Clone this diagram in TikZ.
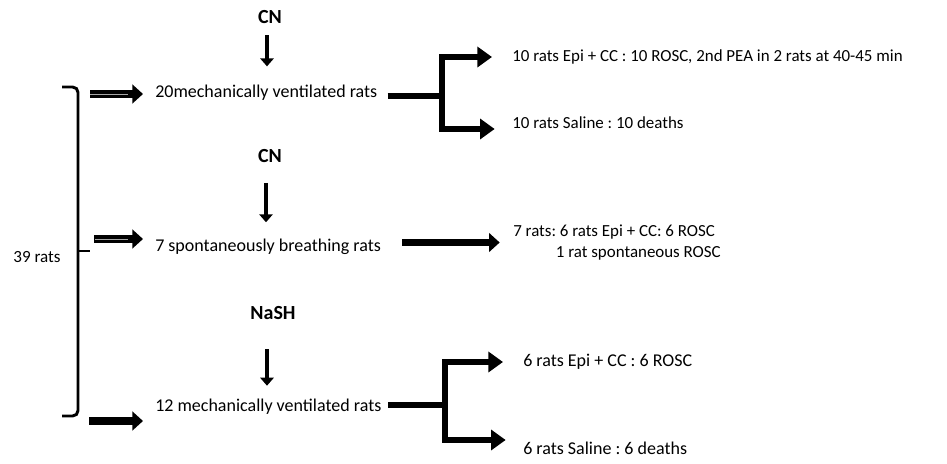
\documentclass[tikz,border=0pt]{standalone}
\usepackage{fontspec}
\setmainfont{Carlito}
\usetikzlibrary{arrows.meta}
\begin{document}
\frenchspacing
\begin{tikzpicture}[x=0.75pt,y=-0.75pt,
  font=\fontsize{13.5}{15.75}\selectfont,
  txt/.style={inner sep=0pt, anchor=west},
  rtxt/.style={inner sep=0pt, anchor=west, font=\fontsize{12.7}{15.75}\selectfont},
  hd/.style={inner sep=0pt, font=\fontsize{15}{17}\selectfont\bfseries},
  bar/.style={line width=4.5pt},
  branch/.style={line width=4.5pt, line join=miter, -{Triangle[length=11pt,width=15pt]}},
  feed/.style={line width=6pt, -{Triangle[length=8pt,width=14pt]}},
  feedline/.style={line width=0.7pt, draw=gray!70},
  drop/.style={line width=3pt, -{Triangle[length=6pt,width=10pt]}},
  bracestyle/.style={line width=2.2pt, rounded corners=4pt},
]
\useasboundingbox (0,0) rectangle (947,464);

% nodes
\node[hd] (cn1) at (270,17) {CN};
\node[txt] (m1) at (155,93) {20mechanically ventilated rats};
\node[rtxt] (r1a) at (512,57) {10 rats Epi + CC : 10 ROSC, 2nd PEA in 2 rats at 40-45 min};
\node[rtxt] (r1b) at (512,123) {10 rats Saline : 10 deaths};

\node[hd] (cn2) at (270,156) {CN};
\node[txt] (m2) at (155,247) {7 spontaneously breathing rats};
\node[rtxt, align=left] (r2) at (513,242.5) {7 rats: 6 rats Epi + CC: 6 ROSC\\\hspace*{32pt}1 rat spontaneous ROSC};

\node[hd] (nash) at (273,313) {NaSH};
\node[txt] (m3) at (155,407) {12 mechanically ventilated rats};
\node[txt] (r3a) at (523,362) {6 rats Epi + CC : 6 ROSC};
\node[txt] (r3b) at (523,448) {6 rats Saline : 6 deaths};

\node[inner sep=0pt, font=\fontsize{12.8}{15}\selectfont] (n39) at (37,257) {39 rats};

% brace
\draw[bracestyle] (62,87) -- (78,87) -- (78,416) -- (62,416);
\draw[line width=2.2pt] (78,251) -- (90,251);

% feed arrows
\coordinate (s1) at (90,94);
\coordinate (s2) at (94,239);
\coordinate (s3) at (89,421);
\draw[feed, shorten >=9pt] (s1) -- (s1 -| m1.west);
\draw[feedline] (s1) -- ([xshift=-20pt]s1 -| m1.west);
\draw[feed, shorten >=9pt] (s2) -- (s2 -| m2.west);
\draw[feedline] ([xshift=1pt]s2) -- ([xshift=-20pt]s2 -| m2.west);
\draw[feed, shorten >=9pt] (s3) -- (s3 -| m3.west);

% drops
\draw[drop, shorten <=8.5pt, shorten >=14pt] ([xshift=-2.25pt]cn1.south) -- ([xshift=-2.25pt]cn1.south |- m1.north);
\draw[drop, shorten <=15pt, shorten >=12.5pt] ([xshift=-3pt]cn2.south) -- ([xshift=-3pt]cn2.south |- m2.north);
\draw[drop, shorten <=22pt, shorten >=10pt] ([xshift=-4.5pt]nash.south) -- ([xshift=-4.5pt]nash.south |- m3.north);

% branches
\coordinate (j1) at (442,96);
\draw[bar, shorten <=7.5pt] (j1 -| m1.east) -- (j1);
\draw[branch, shorten >=15pt] (j1) |- (r1a.west);
\draw[branch, shorten >=13pt] (j1) |- ([yshift=-4.5pt]r1b.west);

\draw[feed, line width=5.5pt, shorten <=16pt, shorten >=10pt] (r2.west -| m2.east) -- (r2.west);

\coordinate (j3) at (445,405);
\draw[bar, shorten <=5pt] (j3 -| m3.east) -- (j3);
\draw[branch, shorten >=15pt] (j3) |- (r3a.west);
\draw[branch, shorten >=13pt] (j3) |- ([yshift=6pt]r3b.west);
\end{tikzpicture}
\end{document}
